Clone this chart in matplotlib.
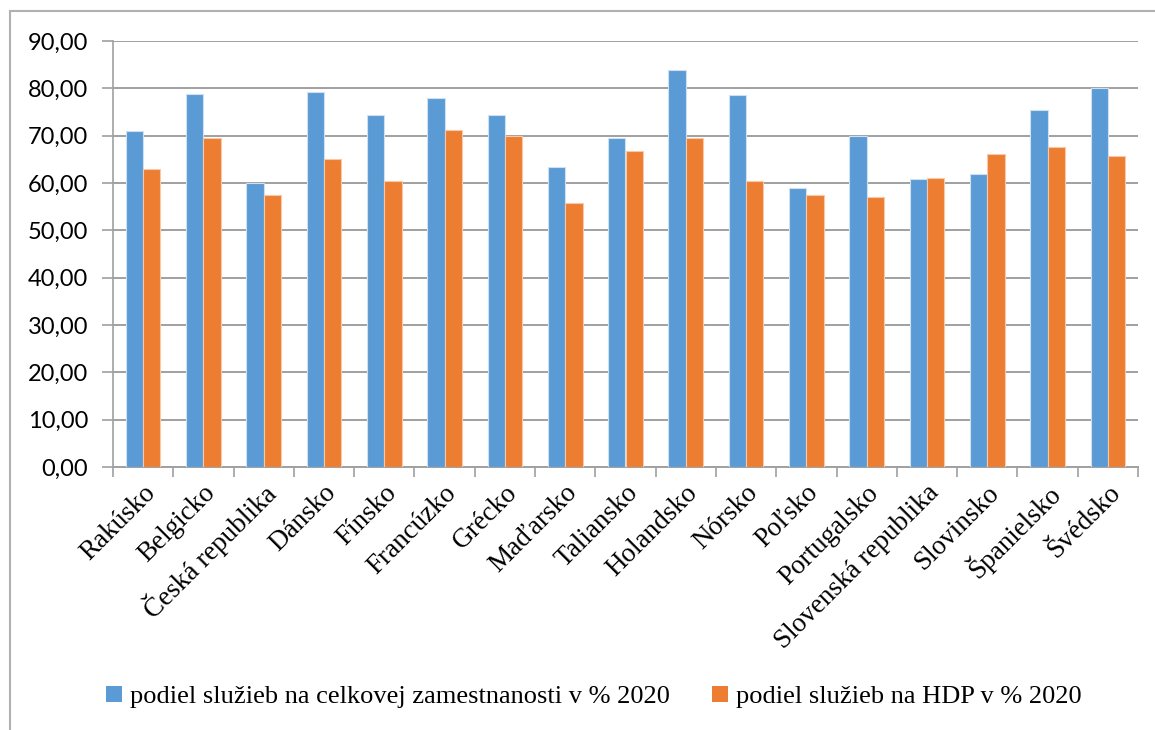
import matplotlib
matplotlib.use("Agg")
import matplotlib.pyplot as plt
import numpy as np
from matplotlib.patches import Rectangle, Patch

countries = ["Rakúsko", "Belgicko", "Česká republika", "Dánsko", "Fínsko",
             "Francúzko", "Grécko", "Maďarsko", "Taliansko", "Holandsko",
             "Nórsko", "Poľsko", "Portugalsko", "Slovenská republika",
             "Slovinsko", "Španielsko", "Švédsko"]
employment = [71.0, 78.7, 60.1, 79.2, 74.4, 78.0, 74.4, 63.3, 69.6, 83.9,
              78.5, 58.9, 69.9, 60.8, 62.0, 75.5, 80.1]
gdp = [62.9, 69.6, 57.5, 65.0, 60.5, 71.1, 69.9, 55.8, 66.7, 69.6,
       60.5, 57.5, 57.1, 61.0, 66.1, 67.6, 65.6]
series_names = ["podiel služieb na celkovej zamestnanosti v % 2020",
                "podiel služieb na HDP v % 2020"]
yticks = [0, 10, 20, 30, 40, 50, 60, 70, 80, 90]

BLUE = "#5B9BD5"
ORANGE = "#ED7D31"
GRID = "#A0A0A0"
SERIF = ["Liberation Serif", "DejaVu Serif"]

fig = plt.figure(figsize=(11.55, 7.3), dpi=100)
fig.patch.set_facecolor("white")
ax = fig.add_axes([113 / 1155, 1 - 467 / 730, (1138 - 113) / 1155, (467 - 41) / 730])

x = np.arange(len(countries))
w = 0.287
ax.bar(x - w / 2, employment, width=w, color=BLUE, edgecolor="#CFE0F1",
       linewidth=0.8, zorder=3)
ax.bar(x + w / 2, gdp, width=w, color=ORANGE, edgecolor="#F7C9A8",
       linewidth=0.8, zorder=3)

ax.set_xlim(-0.5, len(countries) - 0.5)
ax.set_ylim(0, 90)
ax.set_yticks(yticks)
ax.set_yticklabels([f"{v:.2f}".replace(".", ",") for v in yticks],
                   fontfamily="Lato", fontsize=17, color="#000000")
ax.yaxis.grid(True, color=GRID, linewidth=1.4, zorder=0)
ax.tick_params(axis="y", length=8, width=1.2, color=GRID, pad=10)

ax.set_xticks(np.arange(len(countries) + 1) - 0.5)
ax.set_xticklabels([])
ax.tick_params(axis="x", length=7, width=1.2, color=GRID)
for i, name in enumerate(countries):
    ax.annotate(name, xy=(i, 0), xycoords="data", xytext=(6, -16),
                textcoords="offset points", rotation=45,
                rotation_mode="anchor", ha="right", va="center",
                fontfamily=SERIF, fontsize=19.5, color="#000000")

for side in ["top", "right"]:
    ax.spines[side].set_visible(False)
ax.spines["left"].set_color(GRID)
ax.spines["left"].set_linewidth(1.2)
ax.spines["bottom"].set_color(GRID)
ax.spines["bottom"].set_linewidth(1.4)

# Outer chart frame
fig.add_artist(Rectangle((10 / 1155, -0.05), 1.1, 1 - 11 / 730 + 0.05,
                         transform=fig.transFigure, fill=False,
                         edgecolor="#B0B0B0", linewidth=1.5))

handles = [Patch(facecolor=BLUE, edgecolor="none"),
           Patch(facecolor=ORANGE, edgecolor="none")]
fig.legend(handles, series_names, loc="center", bbox_to_anchor=(0.514, 1 - 697 / 730),
           ncol=2, frameon=False, prop={"family": SERIF, "size": 19},
           handlelength=0.6, handleheight=0.6, handletextpad=0.3,
           columnspacing=1.6)

fig.savefig("out.png", dpi=100, facecolor="white")
